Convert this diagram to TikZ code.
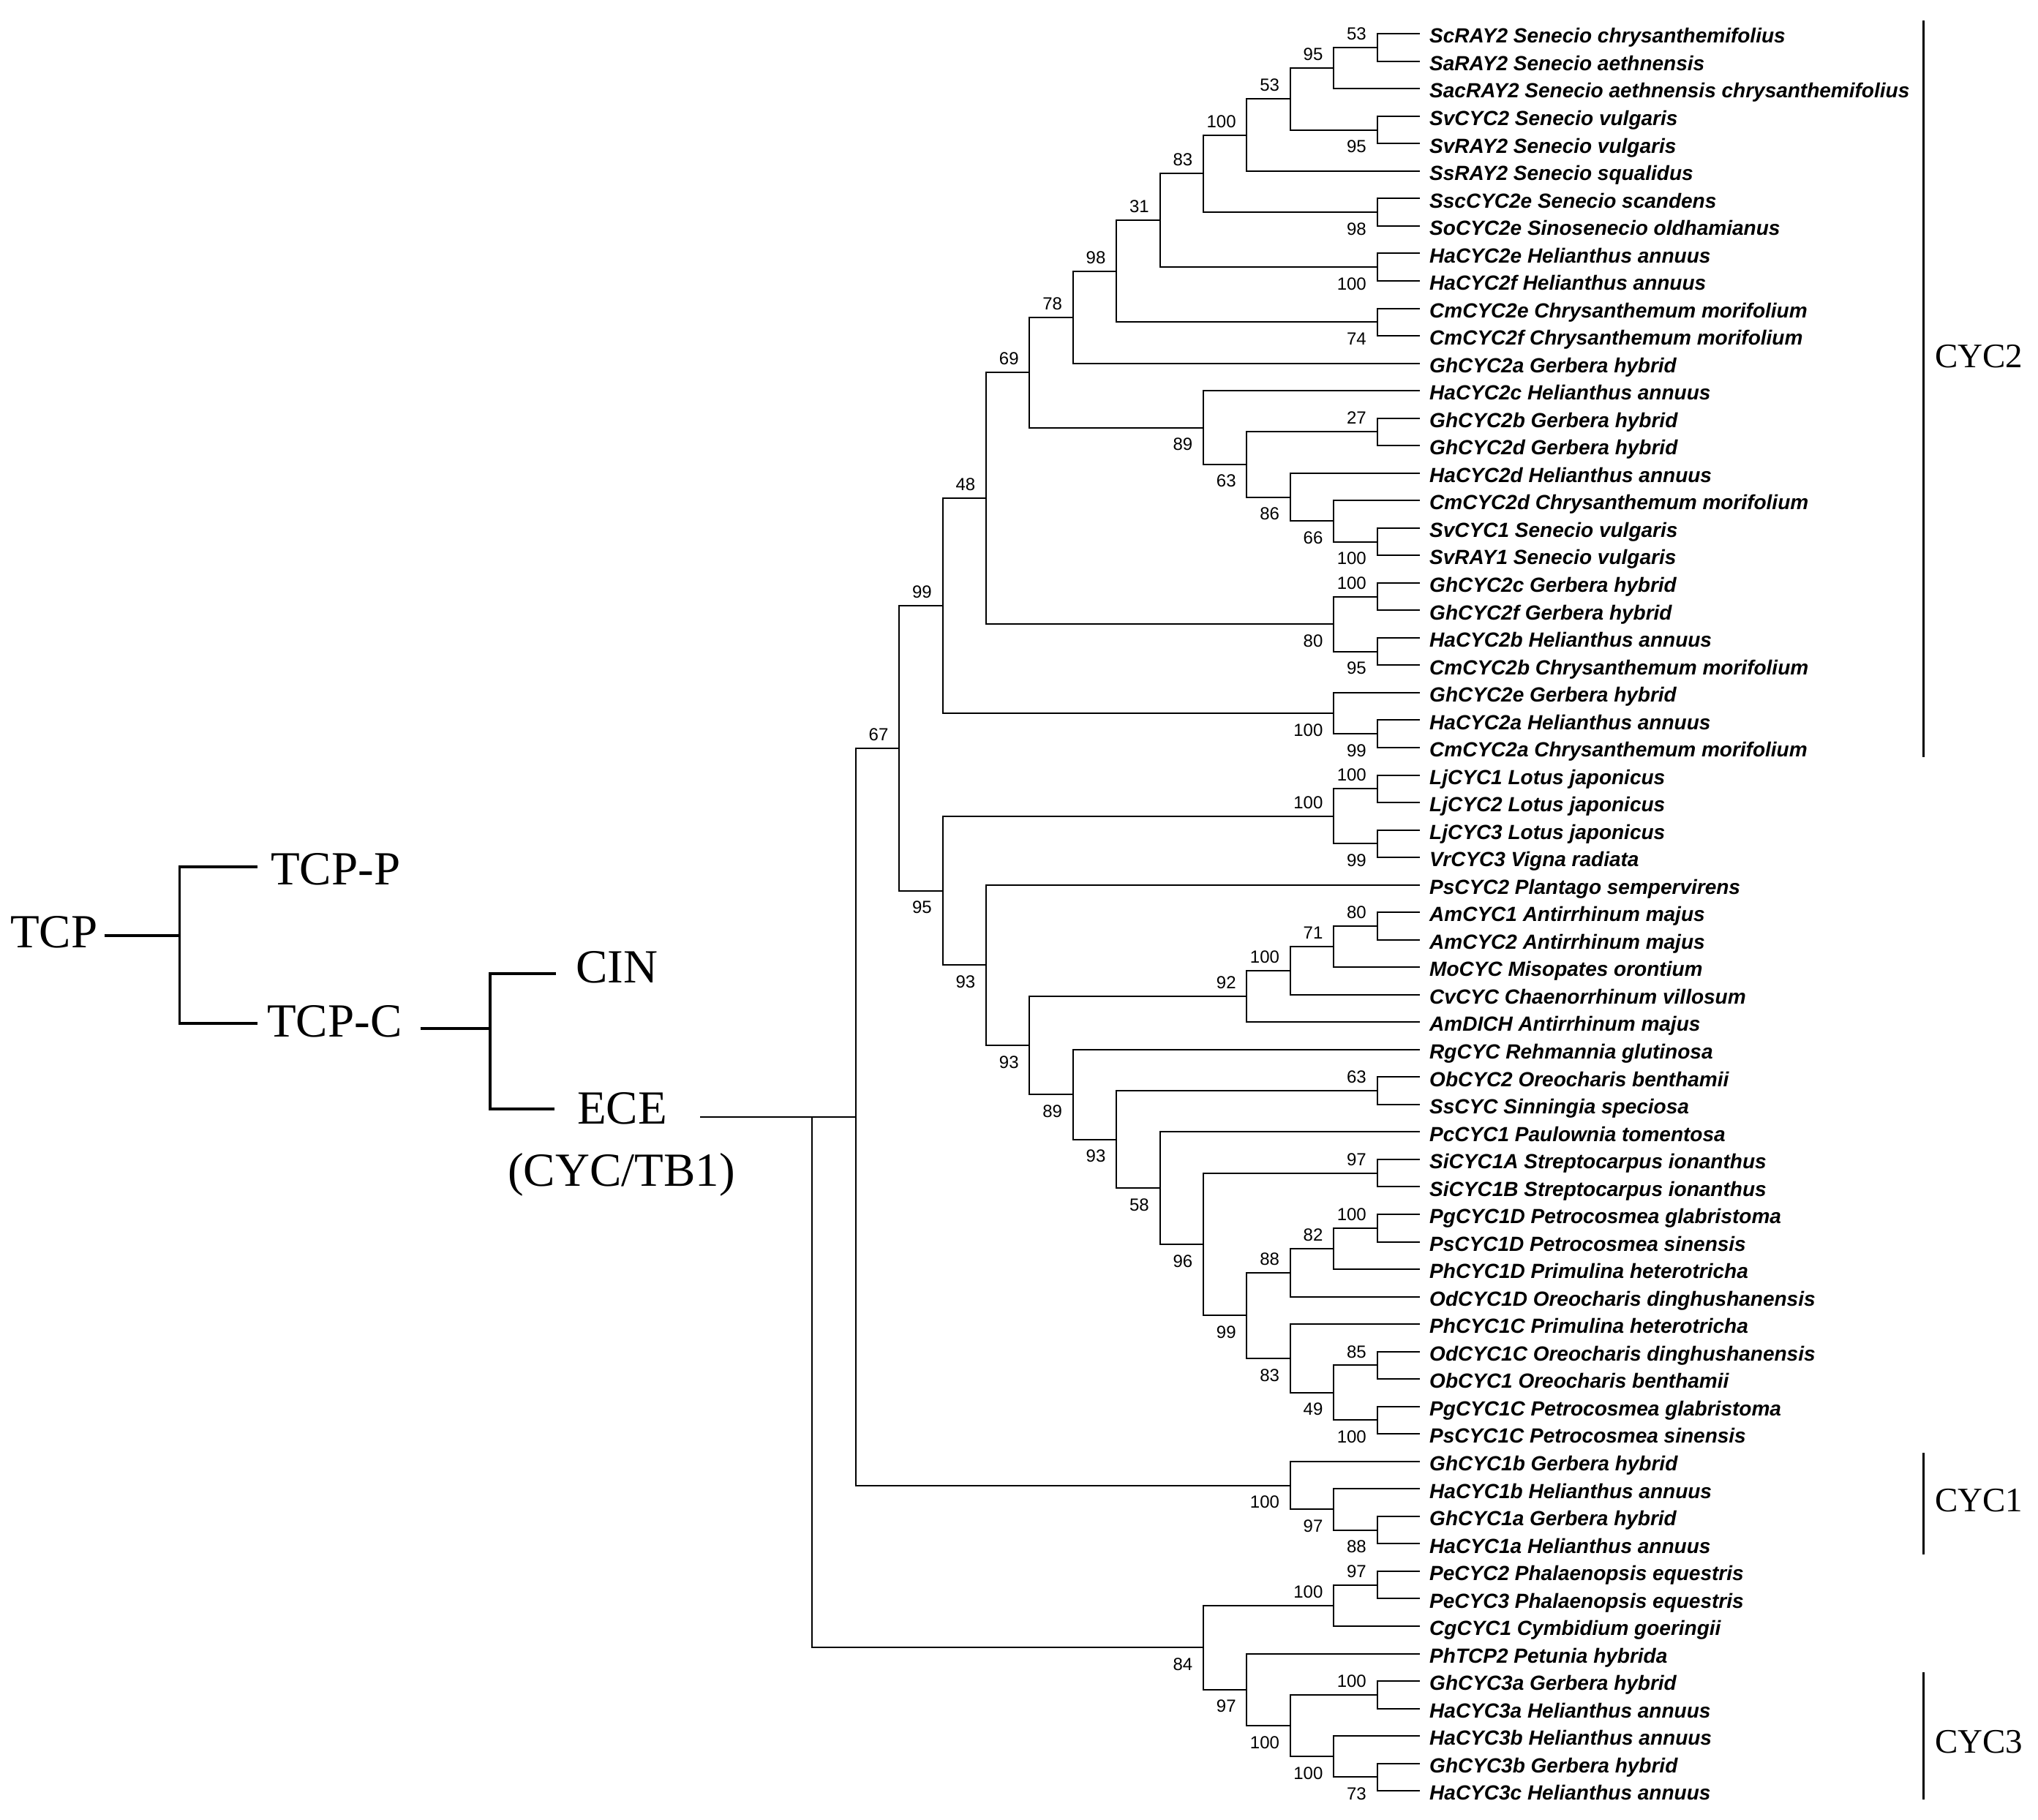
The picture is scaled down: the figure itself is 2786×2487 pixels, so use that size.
\documentclass[tikz,border=0pt]{standalone}
\usepackage{fontspec}
\setmainfont{Liberation Serif}
\setsansfont{Liberation Sans}
\usepackage{tikz}
\usetikzlibrary{calc,positioning}

\newcommand{\leaffont}{\sffamily\bfseries\itshape\fontsize{28}{30}\selectfont}
\newcommand{\bootfont}{\sffamily\fontsize{24}{26}\selectfont}
\newcommand{\familyfont}{\rmfamily\fontsize{65}{70}\selectfont}
\newcommand{\groupfont}{\rmfamily\fontsize{47}{50}\selectfont}

\tikzset{
	branch/.style={line width=2pt},
	stem/.style={line width=3.2pt},
	bar/.style={line width=3pt},
	leaf/.style={anchor=base west,inner sep=0pt,xshift=13pt,yshift=-12.7pt,font=\leaffont},
	boot above/.style={anchor=base east,inner sep=0pt,xshift=-14.5pt,yshift=10.4pt,font=\bootfont},
	boot below/.style={anchor=base east,inner sep=0pt,xshift=-14.5pt,yshift=-31pt,font=\bootfont},
	family/.style={anchor=west,inner sep=0pt,font=\familyfont},
	group/.style={anchor=west,inner sep=0pt,font=\groupfont}
}

% name, level, upper child, lower child, bootstrap, above/below
\newcommand{\clade}[6]{%
	\coordinate (mid) at ($(#3)!.5!(#4)$);
	\coordinate (#1) at (lv#2 |- mid);
	\draw[branch] (#3) -| (#1) |- (#4);
	\node[boot #6] (b#1) at (#1) {#5};
}

\begin{document}
\begin{tikzpicture}[x=1pt,y=-1pt]
	\useasboundingbox (0,0) rectangle (2786,2487);

	% left overview
	\node[family] (tcp) at (14,1274) {TCP};
	\node[family] (tcpp) at (370,1188) {TCP-P};
	\node[family] (tcpc) at (365,1396.6) {TCP-C};
	\node[family] (cin) at (787,1322) {CIN};
	\node[family] (ecetxt) at (789,1515) {ECE};
	\node[family] (cyctb) at (694,1606) {(CYC/TB1)};
	\coordinate (fk1) at (245.5,1279);
	\coordinate (pP) at (352,1185);
	\coordinate (pC) at (352,1399);
	\coordinate (fk2) at (670,1406);
	\coordinate (pCIN) at (760,1331);
	\coordinate (pECE) at (758,1516);
	\draw[stem,shorten <=9pt] (tcp.east |- fk1) -- (fk1);
	\draw[stem] (fk1) |- (pP);
	\draw[stem] (fk1) |- (pC);
	\draw[stem,shorten <=25pt] (tcpc.east |- fk2) -- (fk2);
	\draw[stem] (fk2) |- (pCIN);
	\draw[stem] (fk2) |- (pECE);

	% tree levels
	\foreach \k in {0,...,13}
	{
		\coordinate (lv\k) at ({1882.5-59.4*\k},0);
	}

	% leaves
	\foreach \name [count=\i] in {
		ScRAY2 Senecio chrysanthemifolius, SaRAY2 Senecio aethnensis,
		SacRAY2 Senecio aethnensis chrysanthemifolius, SvCYC2 Senecio vulgaris,
		SvRAY2 Senecio vulgaris, SsRAY2 Senecio squalidus,
		SscCYC2e Senecio scandens, SoCYC2e Sinosenecio oldhamianus,
		HaCYC2e Helianthus annuus, HaCYC2f Helianthus annuus,
		CmCYC2e Chrysanthemum morifolium, CmCYC2f Chrysanthemum morifolium,
		GhCYC2a Gerbera hybrid, HaCYC2c Helianthus annuus,
		GhCYC2b Gerbera hybrid, GhCYC2d Gerbera hybrid,
		HaCYC2d Helianthus annuus, CmCYC2d Chrysanthemum morifolium,
		SvCYC1 Senecio vulgaris, SvRAY1 Senecio vulgaris,
		GhCYC2c Gerbera hybrid, GhCYC2f Gerbera hybrid,
		HaCYC2b Helianthus annuus, CmCYC2b Chrysanthemum morifolium,
		GhCYC2e Gerbera hybrid, HaCYC2a Helianthus annuus,
		CmCYC2a Chrysanthemum morifolium, LjCYC1 Lotus japonicus,
		LjCYC2 Lotus japonicus, LjCYC3 Lotus japonicus,
		VrCYC3 Vigna radiata, PsCYC2 Plantago sempervirens,
		AmCYC1 Antirrhinum majus, AmCYC2 Antirrhinum majus,
		MoCYC Misopates orontium, CvCYC Chaenorrhinum villosum,
		AmDICH Antirrhinum majus, RgCYC Rehmannia glutinosa,
		ObCYC2 Oreocharis benthamii, SsCYC Sinningia speciosa,
		PcCYC1 Paulownia tomentosa, SiCYC1A Streptocarpus ionanthus,
		SiCYC1B Streptocarpus ionanthus, PgCYC1D Petrocosmea glabristoma,
		PsCYC1D Petrocosmea sinensis, PhCYC1D Primulina heterotricha,
		OdCYC1D Oreocharis dinghushanensis, PhCYC1C Primulina heterotricha,
		OdCYC1C Oreocharis dinghushanensis, ObCYC1 Oreocharis benthamii,
		PgCYC1C Petrocosmea glabristoma, PsCYC1C Petrocosmea sinensis,
		GhCYC1b Gerbera hybrid, HaCYC1b Helianthus annuus,
		GhCYC1a Gerbera hybrid, HaCYC1a Helianthus annuus,
		PeCYC2 Phalaenopsis equestris, PeCYC3 Phalaenopsis equestris,
		CgCYC1 Cymbidium goeringii, PhTCP2 Petunia hybrida,
		GhCYC3a Gerbera hybrid, HaCYC3a Helianthus annuus,
		HaCYC3b Helianthus annuus, GhCYC3b Gerbera hybrid,
		HaCYC3c Helianthus annuus}
	{
		\coordinate (l\i) at (1941,{46.2+37.53*(\i-1)});
		\node[leaf] (t\i) at (l\i) {\name};
	}

	% CYC2 clade
	\clade{a1}{0}{l1}{l2}{53}{above}
	\clade{a2}{1}{a1}{l3}{95}{above}
	\clade{a3}{0}{l4}{l5}{95}{below}
	\clade{a4}{2}{a2}{a3}{53}{above}
	\clade{a5}{3}{a4}{l6}{100}{above}
	\clade{a6}{0}{l7}{l8}{98}{below}
	\clade{a7}{4}{a5}{a6}{83}{above}
	\clade{a8}{0}{l9}{l10}{100}{below}
	\clade{a9}{5}{a7}{a8}{31}{above}
	\clade{a10}{0}{l11}{l12}{74}{below}
	\clade{a11}{6}{a9}{a10}{98}{above}
	\clade{a12}{7}{a11}{l13}{78}{above}
	\clade{b1}{0}{l15}{l16}{27}{above}
	\clade{b2}{0}{l19}{l20}{100}{below}
	\clade{b3}{1}{l18}{b2}{66}{below}
	\clade{b4}{2}{l17}{b3}{86}{below}
	\clade{b5}{3}{b1}{b4}{63}{below}
	\clade{b6}{4}{l14}{b5}{89}{below}
	\clade{c1}{8}{a12}{b6}{69}{above}
	\clade{c2}{0}{l21}{l22}{100}{above}
	\clade{c3}{0}{l23}{l24}{95}{below}
	\clade{c4}{1}{c2}{c3}{80}{below}
	\clade{c5}{9}{c1}{c4}{48}{above}
	\clade{c6}{0}{l26}{l27}{99}{below}
	\clade{c7}{1}{l25}{c6}{100}{below}
	\clade{c8}{10}{c5}{c7}{99}{above}

	% Lotus and Lamiales
	\clade{d1}{0}{l28}{l29}{100}{above}
	\clade{d2}{0}{l30}{l31}{99}{below}
	\clade{d3}{1}{d1}{d2}{100}{above}
	\clade{e1}{0}{l33}{l34}{80}{above}
	\clade{e2}{1}{e1}{l35}{71}{above}
	\clade{e3}{2}{e2}{l36}{100}{above}
	\clade{e4}{3}{e3}{l37}{92}{above}
	\clade{f1}{0}{l39}{l40}{63}{above}
	\clade{f2}{0}{l42}{l43}{97}{above}
	\clade{f3}{0}{l44}{l45}{100}{above}
	\clade{f4}{1}{f3}{l46}{82}{above}
	\clade{f5}{2}{f4}{l47}{88}{above}
	\clade{f6}{0}{l49}{l50}{85}{above}
	\clade{f7}{0}{l51}{l52}{100}{below}
	\clade{f8}{1}{f6}{f7}{49}{below}
	\clade{f9}{2}{l48}{f8}{83}{below}
	\clade{f10}{3}{f5}{f9}{99}{below}
	\clade{f11}{4}{f2}{f10}{96}{below}
	\clade{f12}{5}{l41}{f11}{58}{below}
	\clade{f13}{6}{f1}{f12}{93}{below}
	\clade{f14}{7}{l38}{f13}{89}{below}
	\clade{e5}{8}{e4}{f14}{93}{below}
	\clade{e6}{9}{l32}{e5}{93}{below}
	\clade{d4}{10}{d3}{e6}{95}{below}
	\clade{g1}{11}{c8}{d4}{67}{above}

	% CYC1
	\clade{h1}{0}{l55}{l56}{88}{below}
	\clade{h2}{1}{l54}{h1}{97}{below}
	\clade{h3}{2}{l53}{h2}{100}{below}

	% orchids and CYC3
	\clade{k1}{0}{l57}{l58}{97}{above}
	\clade{k2}{1}{k1}{l59}{100}{above}
	\clade{k3}{0}{l64}{l65}{73}{below}
	\clade{k4}{1}{l63}{k3}{100}{below}
	\clade{k5}{0}{l61}{l62}{100}{above}
	\clade{k6}{2}{k5}{k4}{100}{below}
	\clade{k7}{3}{l60}{k6}{97}{below}
	\clade{k8}{4}{k2}{k7}{84}{below}

	% root
	\coordinate (mid) at ($(g1)!.5!(h3)$);
	\coordinate (ece) at (lv12 |- mid);
	\draw[branch] (g1) -| (ece) |- (h3);
	\coordinate (root) at (lv13 |- ece);
	\draw[branch] (root) |- (k8);
	\coordinate (ecetail) at (957,0);
	\draw[branch] (ecetail |- ece) -- (ece);

	% groups
	\coordinate (c2top) at (2629,28);
	\coordinate (c2bot) at (2629,1035);
	\coordinate (c1top) at (2629,1986);
	\coordinate (c1bot) at (2629,2125);
	\coordinate (c3top) at (2629,2286);
	\coordinate (c3bot) at (2629,2460);
	\draw[bar] (c2top) -- (c2bot);
	\draw[bar] (c1top) -- (c1bot);
	\draw[bar] (c3top) -- (c3bot);
	\node[group] (cyc2) at (2645,487.5) {CYC2};
	\node[group] (cyc1) at (2645,2051) {CYC1};
	\node[group] (cyc3) at (2645,2381.5) {CYC3};
\end{tikzpicture}
\end{document}
